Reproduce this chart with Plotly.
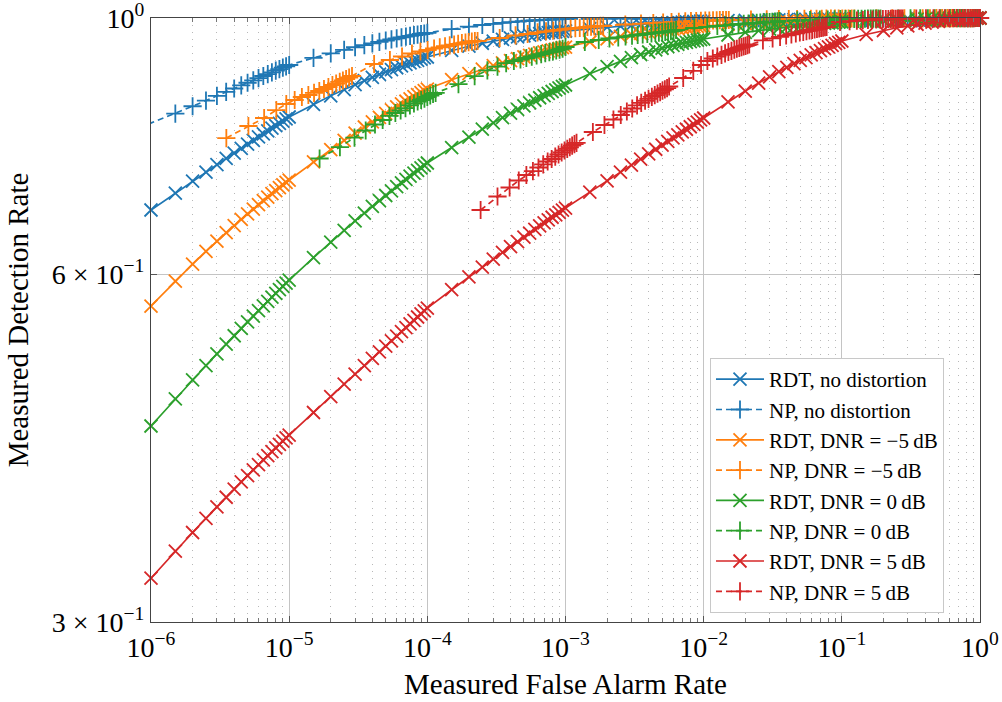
import plotly.graph_objects as go

# Nominal false-alarm grid (18 points per decade from 1e-6, closed at 1)
fa_rate = [
    1e-6, 1.5e-6, 2e-6, 2.5e-6, 3e-6, 3.5e-6, 4e-6, 4.5e-6, 5e-6, 5.5e-6, 6e-6, 6.5e-6, 7e-6, 7.5e-6, 8e-6, 8.5e-6, 9e-6, 9.5e-6,
    1e-5, 1.5e-5, 2e-5, 2.5e-5, 3e-5, 3.5e-5, 4e-5, 4.5e-5, 5e-5, 5.5e-5, 6e-5, 6.5e-5, 7e-5, 7.5e-5, 8e-5, 8.5e-5, 9e-5, 9.5e-5,
    1e-4, 1.5e-4, 2e-4, 2.5e-4, 3e-4, 3.5e-4, 4e-4, 4.5e-4, 5e-4, 5.5e-4, 6e-4, 6.5e-4, 7e-4, 7.5e-4, 8e-4, 8.5e-4, 9e-4, 9.5e-4,
    1e-3, 1.5e-3, 2e-3, 2.5e-3, 3e-3, 3.5e-3, 4e-3, 4.5e-3, 5e-3, 5.5e-3, 6e-3, 6.5e-3, 7e-3, 7.5e-3, 8e-3, 8.5e-3, 9e-3, 9.5e-3,
    1e-2, 1.5e-2, 2e-2, 2.5e-2, 3e-2, 3.5e-2, 4e-2, 4.5e-2, 5e-2, 5.5e-2, 6e-2, 6.5e-2, 7e-2, 7.5e-2, 8e-2, 8.5e-2, 9e-2, 9.5e-2,
    0.1, 0.15, 0.2, 0.25, 0.3, 0.35, 0.4, 0.45, 0.5, 0.55, 0.6, 0.65, 0.7, 0.75, 0.8, 0.85, 0.9, 0.95,
    1.0,
]

# RDT detection rates on the grid above
pd_rdt_clean = [
    .6820, .7054, .7224, .7356, .7465, .7558, .7640, .7711, .7777, .7835, .7889, .7939, .7985, .8028, .8068, .8106, .8142, .8177,
    .8209, .8420, .8564, .8671, .8756, .8826, .8885, .8937, .8982, .9021, .9056, .9089, .9118, .9145, .9170, .9192, .9213, .9234,
    .9252, .9375, .9453, .9509, .9550, .9583, .9609, .9631, .9650, .9666, .9680, .9692, .9702, .9711, .9719, .9727, .9733, .9739,
    .9744, .9790, .9819, .9841, .9857, .9871, .9881, .9890, .9898, .9904, .9910, .9915, .9920, .9924, .9928, .9932, .9935, .9938,
    .9940, .9949, .9954, .9959, .9962, .9964, .9967, .9969, .9970, .9972, .9973, .9974, .9975, .9976, .9977, .9978, .9979, .9980,
    .9980, .9984, .9986, .9988, .9990, .9991, .9992, .9993, .9994, .9995, .9996, .9996, .9997, .9998, .9998, .9999, .9999, 1.0,
    1.0,
]
pd_rdt_m5 = [
    .5632, .5919, .6123, .6281, .6409, .6518, .6611, .6693, .6767, .6832, .6892, .6948, .6998, .7046, .7089, .7130, .7169, .7206,
    .7240, .7506, .7692, .7834, .7950, .8047, .8130, .8202, .8268, .8325, .8378, .8427, .8471, .8512, .8550, .8585, .8619, .8651,
    .8680, .8843, .8951, .9030, .9093, .9144, .9186, .9222, .9254, .9282, .9306, .9329, .9349, .9367, .9384, .9399, .9413, .9426,
    .9438, .9533, .9594, .9638, .9672, .9699, .9721, .9740, .9756, .9769, .9781, .9792, .9801, .9810, .9817, .9824, .9831, .9837,
    .9842, .9872, .9890, .9903, .9913, .9921, .9927, .9932, .9937, .9941, .9944, .9947, .9950, .9952, .9954, .9956, .9957, .9959,
    .9960, .9967, .9972, .9976, .9979, .9982, .9984, .9986, .9988, .9990, .9991, .9993, .9994, .9995, .9996, .9997, .9998, .9999,
    1.0,
]
pd_rdt_0 = [
    .4434, .4680, .4860, .5002, .5119, .5220, .5308, .5386, .5457, .5520, .5580, .5634, .5685, .5732, .5777, .5818, .5858, .5896,
    .5931, .6203, .6398, .6549, .6673, .6777, .6868, .6948, .7020, .7084, .7144, .7199, .7248, .7295, .7339, .7379, .7418, .7456,
    .7490, .7724, .7888, .8014, .8115, .8199, .8272, .8335, .8392, .8442, .8488, .8530, .8568, .8604, .8637, .8667, .8696, .8724,
    .8750, .8949, .9078, .9171, .9242, .9298, .9345, .9383, .9415, .9444, .9468, .9490, .9510, .9527, .9542, .9556, .9568, .9580,
    .9590, .9667, .9717, .9753, .9781, .9802, .9821, .9836, .9849, .9860, .9870, .9879, .9887, .9894, .9901, .9906, .9912, .9917,
    .9921, .9938, .9949, .9957, .9964, .9969, .9973, .9977, .9980, .9983, .9986, .9988, .9990, .9992, .9994, .9996, .9997, .9999,
    1.0,
]
pd_rdt_5 = [
    .3274, .3455, .3586, .3689, .3774, .3847, .3910, .3966, .4017, .4062, .4105, .4144, .4180, .4213, .4245, .4274, .4303, .4330,
    .4355, .4555, .4701, .4819, .4916, .5000, .5074, .5140, .5200, .5254, .5305, .5352, .5395, .5436, .5474, .5510, .5545, .5578,
    .5609, .5818, .5969, .6087, .6184, .6268, .6340, .6404, .6462, .6514, .6562, .6607, .6648, .6686, .6722, .6755, .6788, .6819,
    .6847, .7067, .7227, .7354, .7459, .7549, .7628, .7698, .7762, .7819, .7873, .7922, .7968, .8011, .8051, .8089, .8126, .8161,
    .8193, .8461, .8645, .8784, .8894, .8986, .9063, .9131, .9190, .9242, .9290, .9333, .9372, .9407, .9441, .9471, .9500, .9527,
    .9552, .9677, .9754, .9807, .9846, .9876, .9900, .9919, .9934, .9947, .9957, .9966, .9974, .9980, .9985, .9990, .9994, .9997,
    1.0,
]

# NP detector, no distortion (measured false-alarm rates)
np_clean_fa = [9.6e-7] + fa_rate[1:]
np_clean_pd = [
    .8095, .8265, .8387, .8483, .8562, .8630, .8689, .8742, .8789, .8832, .8871, .8908, .8941, .8973, .9003, .9030, .9057, .9082,
    .9106, .9235, .9321, .9385, .9434, .9474, .9508, .9536, .9561, .9583, .9602, .9620, .9635, .9650, .9663, .9675, .9686, .9696,
    .9706, .9781, .9828, .9861, .9884, .9903, .9917, .9929, .9938, .9946, .9953, .9958, .9963, .9967, .9971, .9974, .9976, .9978,
    .9980, .9983, .9985, .9986, .9988, .9989, .9990, .9990, .9991, .9992, .9992, .9993, .9994, .9994, .9994, .9995, .9995, .9996,
    .9996, .9996, .9997, .9997, .9997, .9997, .9997, .9997, .9997, .9997, .9998, .9998, .9998, .9998, .9998, .9998, .9998, .9998,
    .9999, .9999, .9999, .9999, .9999, .9999, 1.0, 1.0, 1.0, 1.0, 1.0, 1.0, 1.0, 1.0, 1.0, 1.0, 1.0, 1.0,
    1.0,
]

# NP detector, DNR = -5 dB
np_m5_fa = [
    3.51e-6, 5.07e-6, 6.59e-6, 8.07e-6, 9.53e-6, 1.096e-5, 1.236e-5, 1.377e-5, 1.514e-5, 1.652e-5, 1.786e-5, 1.923e-5, 2.056e-5, 2.188e-5, 2.323e-5, 2.449e-5, 2.582e-5, 2.716e-5,
    2.85e-5, 4.12e-5, 5.36e-5, 6.56e-5, 7.74e-5, 8.91e-5, 1.005e-4, 1.119e-4, 1.230e-4, 1.343e-4, 1.452e-4, 1.563e-4, 1.671e-4, 1.778e-4, 1.888e-4, 1.991e-4, 2.099e-4, 2.208e-4,
    2.31e-4, 3.34e-4, 4.35e-4, 5.32e-4, 6.28e-4, 7.23e-4, 8.15e-4, 9.08e-4, 1.0e-3, 1.089e-3, 1.178e-3, 1.268e-3, 1.355e-3, 1.442e-3, 1.531e-3, 1.614e-3, 1.702e-3, 1.791e-3,
    1.875e-3, 2.71e-3, 3.52e-3, 4.32e-3, 5.09e-3, 5.85e-3, 6.61e-3, 7.36e-3, 8.09e-3, 8.83e-3, 9.55e-3, 1.028e-2, 1.099e-2, 1.169e-2, 1.242e-2, 1.309e-2, 1.38e-2, 1.452e-2,
    1.52e-2, 2.20e-2, 2.86e-2, 3.50e-2, 4.13e-2, 4.74e-2, 5.36e-2, 5.97e-2, 6.56e-2, 7.16e-2, 7.74e-2, 8.34e-2, 8.91e-2, 9.48e-2, .1007, .1062, .1119, .1178,
    .1233, .1782, .2317, .2838, .335, .3846, .4345, .4842, .5321, .5808, .6281, .6761, .7228, .7691, .8166, .861, .9078, .955,
    1.0,
]
np_m5_pd = [
    .7872, .8063, .8193, .8324, .8425, .8492, .8543, .8577, .8612, .8646, .8680, .8715, .8750, .8776, .8803, .8829, .8855, .8882,
    .8908, .9124, .9197, .9261, .9317, .9354, .9382, .9410, .9433, .9452, .9469, .9484, .9497, .9511, .9522, .9531, .9541, .9550,
    .9552, .9609, .9658, .9686, .9716, .9735, .9754, .9768, .9779, .9789, .9799, .9807, .9814, .9822, .9828, .9834, .9840, .9846,
    .9846, .9871, .9889, .9901, .9911, .9919, .9925, .9931, .9936, .9940, .9944, .9948, .9950, .9952, .9954, .9956, .9958, .9960,
    .9960, .9968, .9972, .9976, .9978, .9980, .9982, .9983, .9984, .9985, .9986, .9987, .9988, .9988, .9989, .9989, .9990, .9990,
    .9990, .9991, .9992, .9993, .9994, .9994, .9995, .9996, .9996, .9997, .9997, .9998, .9998, .9998, .9999, .9999, 1.0, 1.0,
    1.0,
]

# NP detector, DNR = 0 dB
np_0_fa = [
    1.66e-5, 2.33e-5, 2.97e-5, 3.58e-5, 4.18e-5, 4.75e-5, 5.32e-5, 5.87e-5, 6.41e-5, 6.95e-5, 7.48e-5, 8.0e-5, 8.51e-5, 9.02e-5, 9.53e-5, 1.0e-4, 1.05e-4, 1.10e-4,
    1.148e-4, 1.68e-4, 2.20e-4, 2.72e-4, 3.22e-4, 3.72e-4, 4.23e-4, 4.72e-4, 5.21e-4, 5.70e-4, 6.18e-4, 6.67e-4, 7.14e-4, 7.64e-4, 8.11e-4, 8.57e-4, 9.06e-4, 9.53e-4,
    1.0e-3, 1.38e-3, 1.74e-3, 2.08e-3, 2.41e-3, 2.72e-3, 3.03e-3, 3.33e-3, 3.62e-3, 3.91e-3, 4.19e-3, 4.47e-3, 4.74e-3, 5.01e-3, 5.27e-3, 5.53e-3, 5.79e-3, 6.05e-3,
    6.31e-3, 8.55e-3, 1.062e-2, 1.256e-2, 1.439e-2, 1.614e-2, 1.786e-2, 1.95e-2, 2.109e-2, 2.265e-2, 2.421e-2, 2.57e-2, 2.716e-2, 2.858e-2, 3.0e-2, 3.141e-2, 3.281e-2, 3.42e-2,
    3.55e-2, 4.76e-2, 5.89e-2, 6.93e-2, 7.91e-2, 8.85e-2, 9.75e-2, .1064, .1148, .123, .1312, .139, .1469, .1545, .1618, .169, .1762, .1837,
    .1905, .2553, .3141, .369, .4198, .4699, .5164, .5623, .6067, .6501, .6918, .7328, .7727, .8128, .8511, .8892, .9268, .9638,
    1.0,
]
np_0_pd = [
    .7557, .7732, .7880, .7991, .8087, .8160, .8226, .8275, .8316, .8357, .8400, .8433, .8467, .8492, .8517, .8543, .8569, .8594,
    .8612, .8764, .8905, .9010, .9077, .9141, .9179, .9206, .9234, .9260, .9282, .9304, .9323, .9341, .9358, .9375, .9390, .9405,
    .9438, .9533, .9571, .9600, .9621, .9638, .9654, .9667, .9679, .9688, .9698, .9706, .9714, .9721, .9727, .9733, .9739, .9745,
    .9764, .9803, .9826, .9842, .9856, .9866, .9876, .9884, .9891, .9897, .9903, .9909, .9913, .9917, .9921, .9925, .9929, .9933,
    .9936, .9952, .9960, .9966, .9970, .9973, .9976, .9978, .9980, .9982, .9983, .9984, .9985, .9986, .9987, .9988, .9988, .9989,
    .9989, .9990, .9991, .9992, .9993, .9994, .9995, .9995, .9996, .9997, .9997, .9998, .9998, .9999, .9999, .9999, 1.0, 1.0,
    1.0,
]

# NP detector, DNR = 5 dB
np_5_fa = [
    2.43e-4, 3.22e-4, 3.94e-4, 4.59e-4, 5.21e-4, 5.81e-4, 6.37e-4, 6.90e-4, 7.43e-4, 7.94e-4, 8.43e-4, 8.91e-4, 9.38e-4, 9.84e-4, 1.030e-3, 1.074e-3, 1.117e-3, 1.161e-3,
    1.202e-3, 1.578e-3, 1.914e-3, 2.223e-3, 2.512e-3, 2.78e-3, 3.041e-3, 3.296e-3, 3.532e-3, 3.767e-3, 3.99e-3, 4.217e-3, 4.426e-3, 4.634e-3, 4.842e-3, 5.035e-3, 5.236e-3, 5.433e-3,
    5.623e-3, 7.112e-3, 8.414e-3, 9.572e-3, 1.064e-2, 1.164e-2, 1.256e-2, 1.346e-2, 1.429e-2, 1.51e-2, 1.589e-2, 1.667e-2, 1.738e-2, 1.811e-2, 1.879e-2, 1.945e-2, 2.009e-2, 2.075e-2,
    2.138e-2, 2.685e-2, 3.155e-2, 3.573e-2, 3.954e-2, 4.315e-2, 4.645e-2, 4.966e-2, 5.26e-2, 5.546e-2, 5.834e-2, 6.095e-2, 6.353e-2, 6.607e-2, 6.855e-2, 7.079e-2, 7.311e-2, 7.551e-2,
    7.762e-2, 9.705e-2, .1138, .1285, .1419, .1545, .1663, .1774, .1879, .1982, .208, .2173, .2265, .235, .2438, .2518, .26, .2679,
    .2754, .3459, .4064, .4603, .5093, .5559, .5984, .6397, .6776, .7145, .7516, .7852, .8185, .8511, .8831, .912, .9419, .9727,
    1.0,
]
np_5_pd = [
    .6820, .7006, .7133, .7233, .7313, .7371, .7423, .7468, .7512, .7550, .7587, .7618, .7648, .7679, .7705, .7729, .7753, .7776,
    .7795, .7967, .8079, .8168, .8242, .8300, .8349, .8400, .8442, .8479, .8512, .8545, .8574, .8601, .8627, .8651, .8673, .8697,
    .8724, .8873, .8998, .9106, .9179, .9224, .9261, .9293, .9321, .9345, .9367, .9388, .9405, .9421, .9437, .9450, .9461, .9473,
    .9486, .9562, .9603, .9632, .9658, .9679, .9698, .9716, .9729, .9743, .9754, .9766, .9776, .9785, .9795, .9803, .9811, .9818,
    .9826, .9921, .9936, .9948, .9956, .9962, .9966, .9970, .9973, .9976, .9978, .9980, .9982, .9983, .9984, .9985, .9986, .9987,
    .9988, .9990, .9992, .9993, .9994, .9995, .9995, .9996, .9997, .9997, .9998, .9998, .9998, .9999, .9999, .9999, 1.0, 1.0,
    1.0,
]

BLUE, ORANGE, GREEN, RED = "#1f77b4", "#ff7f0e", "#2ca02c", "#d62728"
X_MARK, PLUS_MARK = "x-thin-open", "cross-thin-open"
DASHED = "6px,4px"

series = [
    ("RDT, no distortion", fa_rate, pd_rdt_clean, BLUE, "solid", X_MARK),
    ("NP, no distortion", np_clean_fa, np_clean_pd, BLUE, DASHED, PLUS_MARK),
    ("RDT, DNR = \u22125\u2009dB", fa_rate, pd_rdt_m5, ORANGE, "solid", X_MARK),
    ("NP, DNR = \u22125\u2009dB", np_m5_fa, np_m5_pd, ORANGE, DASHED, PLUS_MARK),
    ("RDT, DNR = 0\u2009dB", fa_rate, pd_rdt_0, GREEN, "solid", X_MARK),
    ("NP, DNR = 0\u2009dB", np_0_fa, np_0_pd, GREEN, DASHED, PLUS_MARK),
    ("RDT, DNR = 5\u2009dB", fa_rate, pd_rdt_5, RED, "solid", X_MARK),
    ("NP, DNR = 5\u2009dB", np_5_fa, np_5_pd, RED, DASHED, PLUS_MARK),
]

X_MIN = 1e-6

fig = go.Figure()
for name, x, y, color, dash, symbol in series:
    assert len(x) == len(y), name
    # markers on the plot edge stay whole; a curve starting left of the range is clipped
    clip = min(x) < X_MIN
    fig.add_trace(go.Scatter(
        x=x, y=y, mode="lines+markers", name=name,
        line=dict(color=color, width=1.7, dash=dash),
        marker=dict(symbol=symbol, size=13, line=dict(width=1.8, color=color)),
        cliponaxis=clip,
    ))

FONT = "Liberation Serif"
x_ticks = [1e-6, 1e-5, 1e-4, 1e-3, 1e-2, 1e-1, 1.0]
x_labels = ["10<sup>\u22126</sup>", "10<sup>\u22125</sup>", "10<sup>\u22124</sup>", "10<sup>\u22123</sup>",
            "10<sup>\u22122</sup>", "10<sup>\u22121</sup>", "10<sup>0</sup>"]
y_ticks = [0.3, 0.6, 1.0]
y_labels = ["3 \u00d7 10<sup>\u22121</sup>", "6 \u00d7 10<sup>\u22121</sup>", "10<sup>0</sup>"]

fig.update_layout(
    width=1002, height=702,
    margin=dict(l=151, r=22, t=18, b=80),
    paper_bgcolor="white", plot_bgcolor="white",
    font=dict(family=FONT, color="black", size=28),
    showlegend=True,
    legend=dict(
        x=0.6743, y=0.437, xanchor="left", yanchor="top",
        bgcolor="white", bordercolor="#c8c8c8", borderwidth=1,
        font=dict(family=FONT, size=21), tracegroupgap=0, itemwidth=48,
    ),
)
fig.update_xaxes(
    type="log", range=[-6, 0], automargin=False, ticklabeloverflow="allow",
    tickvals=x_ticks, ticktext=x_labels, tickfont=dict(size=28),
    ticks="inside", ticklen=6, tickcolor="#555",
    showline=True, linecolor="#444", linewidth=1, mirror="allticks",
    showgrid=True, gridcolor="#c4c4c4", gridwidth=1, zeroline=False,
    minor=dict(ticks="inside", ticklen=4, tickcolor="#777", dtick="D1",
               showgrid=True, gridcolor="#b8b8b8", griddash="1px,6px", gridwidth=1),
    title=dict(text="Measured False Alarm Rate", font=dict(size=29), standoff=12),
)
fig.update_yaxes(
    type="log", range=[-0.5228787, 0], automargin=False, ticklabeloverflow="allow",
    tickvals=y_ticks, ticktext=y_labels, tickfont=dict(size=28),
    ticks="inside", ticklen=6, tickcolor="#555",
    showline=True, linecolor="#444", linewidth=1, mirror="allticks",
    showgrid=True, gridcolor="#c4c4c4", gridwidth=1, zeroline=False,
    title=dict(text="Measured Detection Rate", font=dict(size=29), standoff=14),
)

fig.write_html("out.html")
